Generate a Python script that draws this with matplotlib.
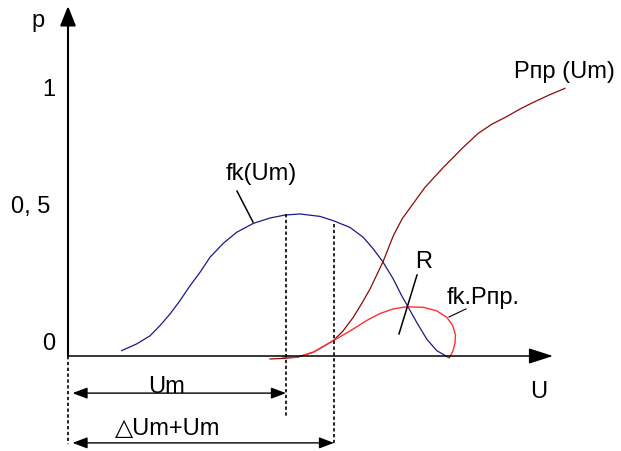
import matplotlib
matplotlib.use("Agg")
import matplotlib.pyplot as plt

plt.rcParams['font.family'] = ['Liberation Sans', 'DejaVu Sans']

# Distribution of the maximum voltage fk(Um)
fk_u = [0.537, 0.687, 0.82, 0.92, 1.02, 1.12, 1.22, 1.32, 1.42, 1.553, 1.687,
        1.853, 2.02, 2.17, 2.32, 2.52, 2.653, 2.82, 2.953, 3.053, 3.147, 3.253,
        3.337, 3.403, 3.487, 3.587, 3.687, 3.803]
fk_p = [0.020, 0.045, 0.075, 0.113, 0.156, 0.206, 0.261, 0.311, 0.367, 0.419,
        0.460, 0.493, 0.513, 0.524, 0.528, 0.519, 0.503, 0.478, 0.441, 0.398,
        0.351, 0.286, 0.224, 0.181, 0.125, 0.063, 0.020, -0.005]

# Breakdown probability Pпр(Um)
ppr_u = [2.02, 2.15, 2.287, 2.453, 2.653, 2.75, 2.853, 2.94, 3.02, 3.087, 3.153,
         3.253, 3.34, 3.437, 3.57, 3.753, 3.953, 4.103, 4.24, 4.387, 4.52, 4.653,
         4.81, 4.97]
ppr_p = [-0.011, -0.009, -0.005, 0.014, 0.057, 0.093, 0.144, 0.197, 0.249, 0.301,
         0.353, 0.447, 0.509, 0.559, 0.627, 0.701, 0.776, 0.828, 0.862, 0.890,
         0.918, 0.943, 0.970, 0.995]

# Product fk.Pпр
prod_u = [2.15, 2.287, 2.453, 2.653, 2.82, 2.987, 3.12, 3.253, 3.387, 3.553,
          3.687, 3.787, 3.845, 3.875, 3.87, 3.85, 3.813]
prod_p = [-0.004, -0.005, 0.014, 0.057, 0.093, 0.132, 0.158, 0.175, 0.183, 0.181,
          0.168, 0.144, 0.115, 0.078, 0.048, 0.019, -0.007]

# Characteristic voltages
um = 2.18
dum_um = 2.66
um_top = 0.528
dum_top = 0.491

# Axis tick labels
y_ticks = [1.0, 0.5, 0.0]
y_tick_labels = ["1", "0, 5", "0"]

fig = plt.figure(figsize=(6.21, 4.52), dpi=100)
ax = fig.add_axes([0, 0, 1, 1])
ax.set_xlim(-0.68, 5.53)
ax.set_ylim(-95 / 269, 357 / 269)
ax.axis('off')

# Coordinate axes with arrow heads
ax.annotate("", xy=(0, 1.301), xytext=(0, 0),
            arrowprops=dict(arrowstyle="-|>,head_length=0.6,head_width=0.24",
                            mutation_scale=20, lw=1.5, color="black",
                            shrinkA=0, shrinkB=0))
ax.annotate("", xy=(4.85, 0), xytext=(0, 0),
            arrowprops=dict(arrowstyle="-|>,head_length=0.75,head_width=0.24",
                            mutation_scale=20, lw=1.1, color="black",
                            shrinkA=0, shrinkB=0))

# Curves
ax.plot(fk_u, fk_p, color="#1a1a8a", lw=0.9, solid_joinstyle="round")
ax.plot(ppr_u, ppr_p, color="#8b0a0a", lw=0.9, solid_joinstyle="round")
ax.plot(prod_u, prod_p, color="#ff3030", lw=1.0, solid_joinstyle="round")

# Dashed guides
dash = dict(color="black", lw=1.2, linestyle=(0, (2, 1.5)))
ax.plot([0, 0], [0, -0.327], **dash)
ax.plot([um, um], [um_top, -0.223], **dash)
ax.plot([dum_um, dum_um], [dum_top, -0.327], **dash)

# Dimension arrows
dim = dict(arrowstyle="<|-|>,head_length=0.45,head_width=0.17",
           mutation_scale=20, lw=1.0, color="black", shrinkA=0, shrinkB=0)
ax.annotate("", xy=(um, -0.138), xytext=(0.045, -0.138), arrowprops=dim)
ax.annotate("", xy=(dum_um, -0.323), xytext=(0.045, -0.323), arrowprops=dim)

fs = 17
tick_pos = {"1": (-0.19, 0.972), "0, 5": (-0.37, 0.535), "0": (-0.19, 0.026)}
for lab in y_tick_labels:
    xx, yy = tick_pos[lab]
    ax.text(xx, yy, lab, fontsize=fs, ha="center", va="baseline")

ax.text(-0.30, 1.227, "p", fontsize=fs, ha="center", va="baseline")
ax.text(4.71, -0.152, "U", fontsize=fs, ha="center", va="baseline")
ax.text(1.93, 0.658, "fk(Um)", fontsize=fs, ha="center", va="baseline")
ax.text(4.96, 1.037, "Pпр (Um)", fontsize=fs, ha="center", va="baseline")
ax.text(3.56, 0.331, "R", fontsize=fs, ha="center", va="baseline")
ax.text(4.15, 0.197, "fk.Pпр.", fontsize=fs, ha="center", va="baseline")
ax.text(0.98, -0.134, "Um", fontsize=fs, ha="center", va="baseline")
ax.text(1.00, -0.290, "△Um+Um", fontsize=fs, ha="center", va="baseline")

# Leader lines
ax.plot([1.69, 1.85], [0.613, 0.498], color="black", lw=1.1)
ax.plot([3.49, 3.31], [0.301, 0.082], color="black", lw=1.1)
ax.plot([3.98, 3.81], [0.175, 0.145], color="black", lw=0.8)

fig.savefig("out.png", dpi=100)
